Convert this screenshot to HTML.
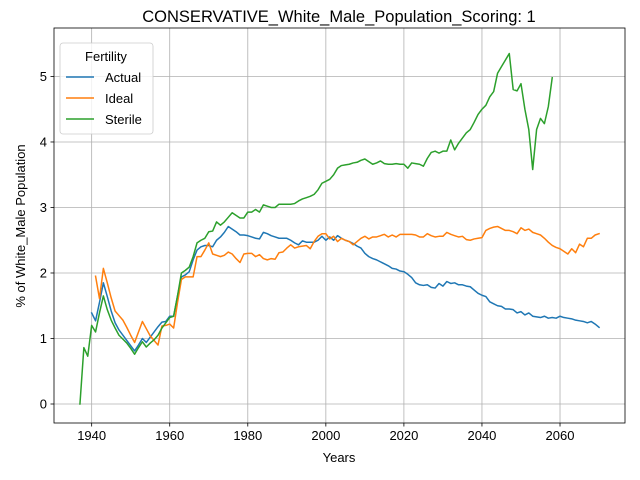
<!DOCTYPE html>
<html><head><meta charset="utf-8"><style>body{margin:0;background:#fff}svg{display:block;font-family:"Liberation Sans","DejaVu Sans",sans-serif}</style></head>
<body>
<svg id="chart" width="640" height="480"></svg>
<script>
const actualStart = 1940;
const actualValues = [1.39,1.27,1.55,1.85,1.64,1.42,1.24,1.13,1.05,0.97,
0.89,0.81,0.9,1.0,0.94,1.02,1.1,1.18,1.25,1.26,
1.34,1.34,1.65,1.94,1.97,2.02,2.2,2.35,2.4,2.42,
2.42,2.4,2.5,2.55,2.62,2.71,2.67,2.63,2.58,2.58,
2.57,2.55,2.53,2.52,2.62,2.6,2.57,2.55,2.53,2.53,
2.53,2.5,2.46,2.43,2.49,2.47,2.47,2.47,2.5,2.56,
2.5,2.55,2.5,2.57,2.53,2.5,2.48,2.45,2.41,2.38,
2.3,2.25,2.22,2.2,2.17,2.14,2.11,2.07,2.06,2.03,
2.02,1.98,1.93,1.85,1.82,1.81,1.82,1.78,1.77,1.84,
1.8,1.87,1.84,1.85,1.82,1.82,1.8,1.79,1.74,1.69,
1.66,1.64,1.56,1.53,1.5,1.49,1.45,1.45,1.44,1.39,
1.41,1.36,1.39,1.34,1.33,1.32,1.34,1.31,1.32,1.31,
1.34,1.32,1.31,1.3,1.28,1.27,1.26,1.24,1.26,1.22,1.17];
const idealStart = 1941;
const idealValues = [1.95,1.61,2.07,1.85,1.62,1.42,1.35,1.28,1.17,
1.05,0.94,1.1,1.26,1.15,1.04,0.97,0.9,1.19,1.2,
1.22,1.16,1.55,1.9,1.94,1.94,1.94,2.25,2.25,2.35,
2.46,2.29,2.27,2.25,2.27,2.32,2.29,2.22,2.16,2.29,
2.3,2.3,2.25,2.28,2.22,2.2,2.22,2.21,2.31,2.32,
2.38,2.43,2.38,2.4,2.41,2.42,2.37,2.48,2.56,2.6,
2.6,2.52,2.56,2.48,2.53,2.5,2.48,2.43,2.48,2.53,
2.56,2.52,2.55,2.55,2.57,2.59,2.55,2.58,2.55,2.59,
2.59,2.59,2.59,2.58,2.55,2.55,2.6,2.57,2.55,2.56,
2.56,2.62,2.59,2.57,2.55,2.56,2.51,2.5,2.52,2.53,
2.54,2.65,2.68,2.7,2.71,2.68,2.65,2.65,2.63,2.6,
2.69,2.65,2.67,2.62,2.6,2.58,2.53,2.47,2.42,2.39,
2.37,2.33,2.29,2.37,2.31,2.44,2.4,2.53,2.53,2.58,2.6];
const sterileStart = 1937;
const sterileValues = [0,0.86,0.73,
1.2,1.1,1.39,1.65,1.44,1.28,1.16,1.05,0.99,0.93,
0.85,0.76,0.86,0.95,0.87,0.93,0.98,1.05,1.16,1.24,
1.32,1.34,1.65,2.0,2.04,2.09,2.25,2.46,2.5,2.53,
2.63,2.64,2.78,2.73,2.78,2.85,2.92,2.88,2.84,2.84,
2.93,2.93,2.97,2.93,3.04,3.02,3.0,3.0,3.05,3.05,
3.05,3.05,3.06,3.1,3.13,3.15,3.17,3.2,3.27,3.37,
3.4,3.43,3.5,3.6,3.64,3.65,3.66,3.68,3.69,3.72,
3.74,3.7,3.66,3.68,3.71,3.67,3.66,3.66,3.67,3.66,
3.66,3.6,3.68,3.67,3.66,3.63,3.75,3.84,3.86,3.83,
3.86,3.86,4.03,3.88,3.98,4.06,4.14,4.19,4.3,4.42,
4.5,4.56,4.69,4.77,5.05,5.15,5.25,5.35,4.8,4.78,
4.89,4.5,4.19,3.58,4.19,4.36,4.28,4.54,4.98];
const xTicks = [1940,1960,1980,2000,2020,2040,2060];
const yTicks = [0,1,2,3,4,5];

const L=54,R=625,T=28,B=423, X0=1930.35,X1=2076.65, Y0=-0.29,Y1=5.74;
const xs=v=>L+(v-X0)/(X1-X0)*(R-L);
const ys=v=>B-(v-Y0)/(Y1-Y0)*(B-T);
const svg=document.getElementById('chart');
const NS='http://www.w3.org/2000/svg';
function mk(tag,attrs,parent){const e=document.createElementNS(NS,tag);for(const k in attrs)e.setAttribute(k,attrs[k]);(parent||svg).appendChild(e);return e;}

const grid=mk('g',{});


xTicks.forEach(t=>{
  const l=mk('line',{x1:xs(t),x2:xs(t),y1:T,y2:B,stroke:'#b0b0b0','stroke-width':0.8},grid);
  
  
  const tk=mk('line',{x1:xs(t),x2:xs(t),y1:B,y2:B+3.5,stroke:'#000','stroke-width':0.8});
  
  
  const tx=mk('text',{x:xs(t),y:B+17,'text-anchor':'middle','font-size':13});
  tx.textContent=t;
  
  
});
yTicks.forEach(t=>{
  const l=mk('line',{x1:L,x2:R,y1:ys(t),y2:ys(t),stroke:'#b0b0b0','stroke-width':0.8},grid);
  
  
  const tk=mk('line',{x1:L-3.5,x2:L,y1:ys(t),y2:ys(t),stroke:'#000','stroke-width':0.8});
  
  
  const tx=mk('text',{x:L-7,y:ys(t)+4.5,'text-anchor':'end','font-size':13});
  tx.textContent=t;
  
  
});

function series(start,vals,color,name){
  const d=vals.map((v,i)=>(i?'L':'M')+xs(start+i).toFixed(2)+','+ys(v).toFixed(2)).join(' ');
  const p=mk('path',{d:d,fill:'none',stroke:color,'stroke-width':1.5,'stroke-linejoin':'round','stroke-linecap':'square'});
  
  
}
series(actualStart,actualValues,'#1f77b4','actual-line');
series(idealStart,idealValues,'#ff7f0e','ideal-line');
series(sterileStart,sterileValues,'#2ca02c','sterile-line');

const frame=mk('rect',{x:L,y:T,width:R-L,height:B-T,fill:'none',stroke:'#000','stroke-width':0.8});


</script>
<svg width="640" height="480" style="position:absolute;left:0;top:0">
<text x="339" y="22" text-anchor="middle" font-size="16.5">CONSERVATIVE_White_Male_Population_Scoring: 1</text>
<text x="339" y="462" text-anchor="middle" font-size="13">Years</text>
<text x="0" y="0" transform="translate(25,226) rotate(-90)" text-anchor="middle" font-size="13">% of White_Male Population</text>
<g>
<rect x="60" y="43" width="93" height="91" rx="3" fill="#fff" fill-opacity="0.8" stroke="#ccc" stroke-width="0.8"/>
<text x="106" y="61" text-anchor="middle" font-size="13">Fertility</text>
<g><line x1="66" x2="94" y1="77" y2="77" stroke="#1f77b4" stroke-width="1.5"/><text x="105" y="82" font-size="13">Actual</text></g>
<g><line x1="66" x2="94" y1="98" y2="98" stroke="#ff7f0e" stroke-width="1.5"/><text x="105" y="103" font-size="13">Ideal</text></g>
<g><line x1="66" x2="94" y1="119" y2="119" stroke="#2ca02c" stroke-width="1.5"/><text x="105" y="124" font-size="13">Sterile</text></g>
</g>
</svg>
</body></html>
